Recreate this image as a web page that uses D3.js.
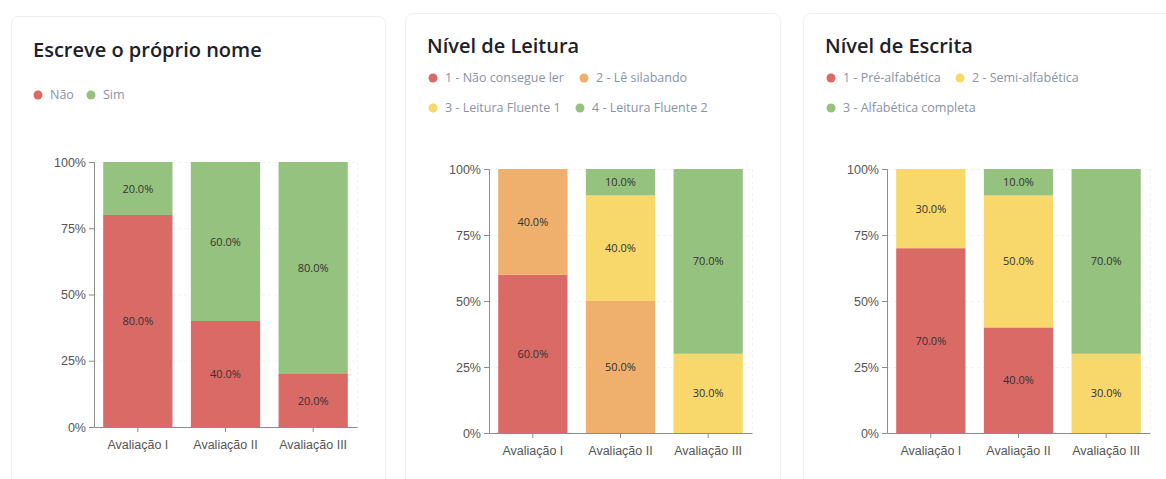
<!DOCTYPE html>
<html>
<head>
<meta charset="utf-8">
<script src="https://cdn.jsdelivr.net/npm/d3@7"></script>
<style>
body { margin:0; background:#fff; font-family:"Open Sans", sans-serif; }
svg { display:block; }
.card { fill:#fff; stroke:#eceef2; stroke-width:1; }
.title { font-size:20px; font-weight:600; fill:#1d2129; }
.legendText { font-size:12.5px; fill:#8a93a6; }
.axis text { font-size:12.5px; fill:#555; }
.axis path, .axis line { stroke:#8c8c8c; }
.grid line { stroke:#f2f2f2; stroke-dasharray:3,3; }
.barLabel { font-size:11px; fill:#333; text-anchor:middle; }
</style>
</head>
<body>
<div id="chart"></div>
<script>
var categories = ["Avaliação I","Avaliação II","Avaliação III"]
var yTicks = [0,25,50,75,100]

var nomeSeries = ["Não","Sim"]
var nomeColors = ["#d96a65","#95c27e"]
var nomeValues = [
  [80,40,20],
  [20,60,80]
]

var leituraSeries = ["1 - Não consegue ler","2 - Lê silabando","3 - Leitura Fluente 1","4 - Leitura Fluente 2"]
var leituraColors = ["#d96a65","#eeb06c","#f8d86a","#95c27e"]
var leituraValues = [
  [60,0,0],
  [40,50,0],
  [0,40,30],
  [0,10,70]
]

var escritaSeries = ["1 - Pré-alfabética","2 - Semi-alfabética","3 - Alfabética completa"]
var escritaColors = ["#d96a65","#f8d86a","#95c27e"]
var escritaValues = [
  [70,40,0],
  [30,50,30],
  [0,10,70]
]

var width = 1166, height = 479
var svg = d3.select("#chart").append("svg")
  .attr("width",width)
  .attr("height",height)

/* one card per chart */
var charts = [
  { title:"Escreve o próprio nome", series:nomeSeries, colors:nomeColors, values:nomeValues,
    card:[11,16,374], titleY:57, legendRows:[[0,1]], legendX:[[38,91]], legendY:[95],
    plot:{x0:94, x1:357, y0:162, y1:427} },
  { title:"Nível de Leitura", series:leituraSeries, colors:leituraColors, values:leituraValues,
    card:[405,13,375], titleY:53, legendRows:[[0,1],[2,3]], legendX:[[433,584],[433,580]], legendY:[78,108],
    plot:{x0:489, x1:752, y0:169, y1:433} },
  { title:"Nível de Escrita", series:escritaSeries, colors:escritaColors, values:escritaValues,
    card:[803,13,380], titleY:53, legendRows:[[0,1],[2]], legendX:[[831,960],[831]], legendY:[78,108],
    plot:{x0:887, x1:1150, y0:169, y1:433} }
]

charts.forEach(drawChart)

function drawChart(c) {
  var g = svg.append("g")
  g.append("rect")
    .attr("class","card")
    .attr("x",c.card[0] + 0.5)
    .attr("y",c.card[1] + 0.5)
    .attr("width",c.card[2])
    .attr("height",height + 20)
    .attr("rx",7)

  g.append("text")
    .attr("class","title")
    .attr("x",c.card[0] + 22)
    .attr("y",c.titleY)
    .text(c.title)

  /* legend */
  c.legendRows.forEach(function(row, r) {
    row.forEach(function(si, k) {
      var lx = c.legendX[r][k]
      g.append("circle")
        .attr("cx",lx)
        .attr("cy",c.legendY[r])
        .attr("r",4.5)
        .attr("fill",c.colors[si])
      g.append("text")
        .attr("class","legendText")
        .attr("x",lx + 12)
        .attr("y",c.legendY[r] + 4)
        .text(c.series[si])
    })
  })

  var p = c.plot
  var x = d3.scaleBand()
    .domain(categories)
    .range([p.x0,p.x1])
    .paddingInner(0.21)
    .paddingOuter(0.105)
  var y = d3.scaleLinear()
    .domain([0,100])
    .range([p.y1,p.y0])

  /* grid */
  var grid = g.append("g").attr("class","grid")
  grid.selectAll("line.h")
    .data(yTicks.filter(function(t) { return t > 0 }))
    .enter().append("line")
    .attr("x1",p.x0)
    .attr("x2",p.x1)
    .attr("y1",function(d) { return y(d) + 0.5 })
    .attr("y2",function(d) { return y(d) + 0.5 })
  grid.append("line")
    .attr("x1",p.x1 + 0.5)
    .attr("x2",p.x1 + 0.5)
    .attr("y1",p.y0)
    .attr("y2",p.y1)

  /* stacked bars */
  var rows = categories.map(function(cat, i) {
    var o = { cat:cat }
    c.series.forEach(function(s, si) { o[s] = c.values[si][i] })
    return o
  })
  var stack = d3.stack().keys(c.series)(rows)

  var layer = g.selectAll("g.layer")
    .data(stack)
    .enter().append("g")
    .attr("class","layer")
    .attr("fill",function(d, i) { return c.colors[i] })
  layer.selectAll("rect")
    .data(function(d) { return d.filter(function(v) { return v[1] - v[0] > 0 }) })
    .enter().append("rect")
    .attr("x",function(d) { return x(d.data.cat) })
    .attr("width",x.bandwidth())
    .attr("y",function(d) { return y(d[1]) })
    .attr("height",function(d) { return y(d[0]) - y(d[1]) })

  layer.selectAll("text")
    .data(function(d) { return d.filter(function(v) { return v[1] - v[0] > 0 }) })
    .enter().append("text")
    .attr("class","barLabel")
    .attr("x",function(d) { return x(d.data.cat) + x.bandwidth() / 2 })
    .attr("y",function(d) { return y((d[0] + d[1]) / 2) + 4 })
    .text(function(d) { return (d[1] - d[0]).toFixed(1) + "%" })

  /* axes */
  g.append("g")
    .attr("class","axis")
    .attr("transform","translate(" + p.x0 + ",0)")
    .call(d3.axisLeft(y).tickValues(yTicks).tickSize(5).tickSizeOuter(5)
      .tickFormat(function(d) { return d + "%" }))
  g.append("g")
    .attr("class","axis")
    .attr("transform","translate(0," + p.y1 + ")")
    .call(d3.axisBottom(x).tickSize(5).tickSizeOuter(0))
    .selectAll("text").attr("dy","1.1em")
}
</script>
</body>
</html>
